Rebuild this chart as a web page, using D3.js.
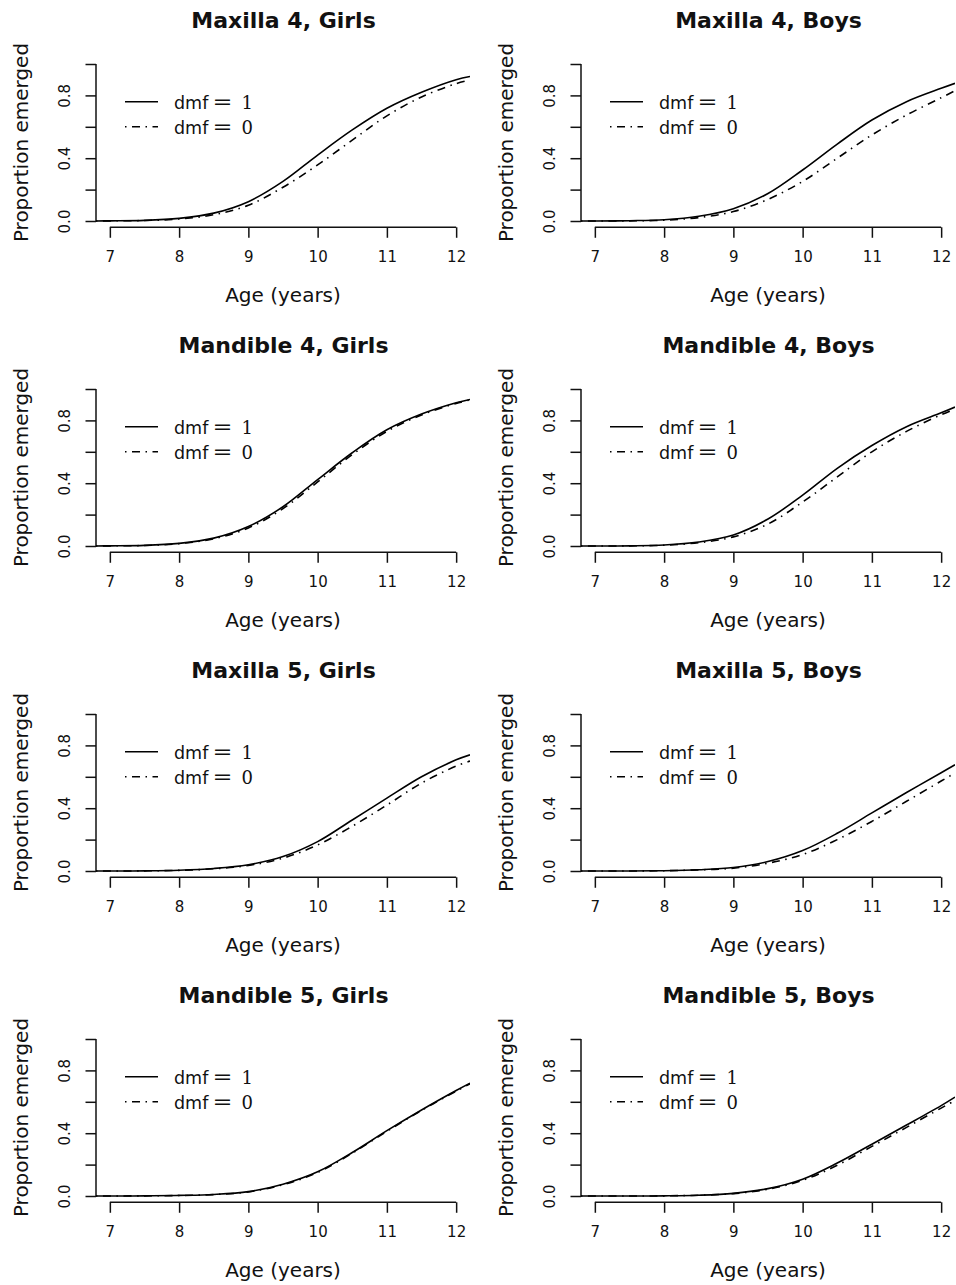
<!DOCTYPE html>
<html>
<head>
<meta charset="utf-8">
<script src="https://cdn.jsdelivr.net/npm/d3@7"></script>
<style>
  html, body { margin: 0; padding: 0; background: #fff; }
  svg { display: block; }
  text { fill: #111; }
</style>
</head>
<body>
<svg id="fig" width="956" height="1285"></svg>
<script>
// Ages at which the fitted emergence curves are tabulated
const ages = [6.8, 7, 7.5, 8, 8.5, 9, 9.5, 10, 10.5, 11, 11.5, 12, 12.2];

// Estimated proportion of teeth emerged, by tooth, sex and caries status (dmf)
const maxilla4GirlsDmf1  = [0, 0.001, 0.004, 0.017, 0.050, 0.123, 0.252, 0.420, 0.580, 0.718, 0.820, 0.900, 0.920];
const maxilla4GirlsDmf0  = [0, 0.001, 0.003, 0.013, 0.040, 0.100, 0.215, 0.357, 0.515, 0.670, 0.790, 0.875, 0.898];
const maxilla4BoysDmf1   = [0, 0.000, 0.002, 0.008, 0.030, 0.078, 0.175, 0.325, 0.490, 0.643, 0.760, 0.845, 0.877];
const maxilla4BoysDmf0   = [0, 0.000, 0.001, 0.005, 0.022, 0.060, 0.138, 0.252, 0.400, 0.548, 0.675, 0.785, 0.830];
const mandible4GirlsDmf1 = [0, 0.001, 0.004, 0.017, 0.050, 0.124, 0.250, 0.423, 0.594, 0.740, 0.840, 0.912, 0.933];
const mandible4GirlsDmf0 = [0, 0.001, 0.003, 0.015, 0.046, 0.115, 0.238, 0.408, 0.582, 0.730, 0.835, 0.908, 0.930];
const mandible4BoysDmf1  = [0, 0.000, 0.001, 0.006, 0.025, 0.070, 0.172, 0.324, 0.495, 0.640, 0.760, 0.848, 0.885];
const mandible4BoysDmf0  = [0, 0.000, 0.001, 0.005, 0.021, 0.058, 0.140, 0.280, 0.440, 0.600, 0.730, 0.836, 0.872];
const maxilla5GirlsDmf1  = [0, 0.000, 0.001, 0.005, 0.016, 0.040, 0.092, 0.187, 0.325, 0.464, 0.600, 0.708, 0.740];
const maxilla5GirlsDmf0  = [0, 0.000, 0.001, 0.004, 0.014, 0.035, 0.082, 0.166, 0.285, 0.420, 0.560, 0.668, 0.700];
const maxilla5BoysDmf1   = [0, 0.000, 0.000, 0.002, 0.008, 0.022, 0.060, 0.130, 0.240, 0.370, 0.500, 0.626, 0.677];
const maxilla5BoysDmf0   = [0, 0.000, 0.000, 0.002, 0.007, 0.018, 0.050, 0.105, 0.200, 0.316, 0.444, 0.573, 0.624];
const mandible5GirlsDmf1 = [0, 0.000, 0.001, 0.004, 0.010, 0.028, 0.075, 0.154, 0.277, 0.416, 0.548, 0.672, 0.719];
const mandible5GirlsDmf0 = [0, 0.000, 0.001, 0.003, 0.009, 0.026, 0.072, 0.150, 0.273, 0.412, 0.545, 0.668, 0.714];
const mandible5BoysDmf1  = [0, 0.000, 0.000, 0.001, 0.005, 0.017, 0.047, 0.107, 0.210, 0.330, 0.452, 0.576, 0.630];
const mandible5BoysDmf0  = [0, 0.000, 0.000, 0.001, 0.005, 0.015, 0.043, 0.100, 0.196, 0.316, 0.437, 0.560, 0.608];

const panelTitles = [
  "Maxilla 4, Girls", "Maxilla 4, Boys",
  "Mandible 4, Girls", "Mandible 4, Boys",
  "Maxilla 5, Girls", "Maxilla 5, Boys",
  "Mandible 5, Girls", "Mandible 5, Boys"
];
const panelDmf1 = [maxilla4GirlsDmf1, maxilla4BoysDmf1, mandible4GirlsDmf1, mandible4BoysDmf1,
                   maxilla5GirlsDmf1, maxilla5BoysDmf1, mandible5GirlsDmf1, mandible5BoysDmf1];
const panelDmf0 = [maxilla4GirlsDmf0, maxilla4BoysDmf0, mandible4GirlsDmf0, mandible4BoysDmf0,
                   maxilla5GirlsDmf0, maxilla5BoysDmf0, mandible5GirlsDmf0, mandible5BoysDmf0];

const xTicks = [7, 8, 9, 10, 11, 12];
const yTicks = [0, 0.2, 0.4, 0.6, 0.8, 1.0];
const yTickLabels = ["0.0", "", "0.4", "", "0.8", ""];
const legendLabels = ["1", "0"];
const xLabel = "Age (years)";
const yLabel = "Proportion emerged";

// Layout of the 4 x 2 grid
const colLeft = [96, 581];   // x of the y-axis line in each column
const rowZero = 221;         // y of value 0 in the first row
const rowStep = 325;
const plotW = 374;
const unitH = 157;           // pixels per unit proportion

const svg = d3.select("#fig");
const sans = "'DejaVu Sans', sans-serif";
const serif = "'DejaVu Serif', serif";
const dotdash = "1.5,5.5,8,5.5";

panelTitles.forEach((title, i) => {
  const col = i % 2, row = Math.floor(i / 2);
  const x0 = colLeft[col];
  const y0 = rowZero + row * rowStep;

  const x = d3.scaleLinear().domain([6.8, 12.2]).range([x0, x0 + plotW]);
  const y = d3.scaleLinear().domain([0, 1]).range([y0, y0 - unitH]);

  const g = svg.append("g");

  // clip region = plotting region (axis ranges padded by 4%)
  const clipId = "clip" + i;
  svg.append("clipPath").attr("id", clipId)
    .append("rect")
    .attr("x", x(6.8)).attr("y", y(1.04))
    .attr("width", x(12.2) - x(6.8)).attr("height", y(-0.04) - y(1.04));

  // title
  g.append("text")
    .attr("x", x0 + plotW / 2 + 0.5).attr("y", y0 - 192.7)
    .attr("text-anchor", "middle")
    .style("font-family", sans).style("font-weight", "bold").style("font-size", "22px")
    .text(title);

  // x axis (line spans first to last tick, placed at bottom of plot region)
  const xAxisY = y(-0.04);
  const xAxis = d3.axisBottom(x).tickValues(xTicks).tickSize(10.5).tickSizeOuter(0)
    .tickFormat(d3.format("d"));
  const gx = g.append("g").attr("transform", `translate(0,${xAxisY})`).call(xAxis)
    .attr("font-size", null).attr("font-family", null);
  gx.select(".domain").remove();
  gx.append("line")
    .attr("x1", x(xTicks[0])).attr("x2", x(xTicks[xTicks.length - 1]))
    .attr("stroke", "#111").attr("stroke-width", 1.5);
  gx.selectAll(".tick line").attr("stroke", "#111").attr("stroke-width", 1.5);
  gx.selectAll(".tick text")
    .attr("dy", null)
    .attr("y", 34.4)
    .attr("font-size", "15px")
    .style("font-family", sans).style("font-size", "15px").style("fill", "#111");

  // y axis at left of plot region, line spans 0 to 1
  const yAxis = d3.axisLeft(y).tickValues(yTicks).tickSize(10.5).tickSizeOuter(0)
    .tickFormat((d, k) => yTickLabels[k]);
  const gy = g.append("g").attr("transform", `translate(${x0},0)`).call(yAxis)
    .attr("font-size", null).attr("font-family", null);
  gy.select(".domain").remove();
  gy.append("line")
    .attr("y1", y(0)).attr("y2", y(1))
    .attr("stroke", "#111").attr("stroke-width", 1.5);
  gy.selectAll(".tick line").attr("stroke", "#111").attr("stroke-width", 1.5);
  gy.selectAll(".tick text")
    .attr("dy", null)
    .attr("transform", "translate(-26,0) rotate(-90)")
    .attr("x", 0).attr("y", 0)
    .attr("text-anchor", "middle")
    .attr("font-size", "15px")
    .style("font-family", sans).style("font-size", "15px").style("fill", "#111");

  // axis titles
  g.append("text")
    .attr("x", x0 + plotW / 2).attr("y", y0 + 80.7)
    .attr("text-anchor", "middle")
    .style("font-family", sans).style("font-size", "20px")
    .text(xLabel);
  g.append("text")
    .attr("transform", `translate(${x0 - 68},${(y(0) + y(1)) / 2}) rotate(-90)`)
    .attr("text-anchor", "middle")
    .style("font-family", sans).style("font-size", "20px")
    .text(yLabel);

  // fitted curves
  const line = d3.line()
    .x((d, k) => x(ages[k]))
    .y(d => y(d))
    .curve(d3.curveCatmullRom.alpha(0.5));

  const curves = g.append("g").attr("clip-path", `url(#${clipId})`);
  curves.append("path")
    .attr("d", line(panelDmf1[i]))
    .attr("fill", "none").attr("stroke", "#000").attr("stroke-width", 1.6);
  curves.append("path")
    .attr("d", line(panelDmf0[i]))
    .attr("fill", "none").attr("stroke", "#000").attr("stroke-width", 1.6)
    .attr("stroke-dasharray", dotdash);

  // legend
  legendLabels.forEach((lab, k) => {
    const ly = y0 - 119.3 + k * 25;
    const ln = g.append("line")
      .attr("x1", x0 + 29).attr("x2", x0 + 62)
      .attr("y1", ly).attr("y2", ly)
      .attr("stroke", "#000").attr("stroke-width", 1.6);
    if (k === 1) ln.attr("stroke-dasharray", dotdash);

    const tb = ly + 7;
    const t = g.append("text")
      .attr("y", tb)
      .style("font-size", "18px");
    t.append("tspan")
      .attr("x", x0 + 78)
      .style("font-family", sans).style("font-size", "17.5px")
      .text("dmf");
    t.append("tspan")
      .attr("x", x0 + 116.5)
      .attr("textLength", 20).attr("lengthAdjust", "spacingAndGlyphs")
      .style("font-family", serif).style("font-size", "20px").style("font-weight", "300")
      .text("=");
    t.append("tspan")
      .attr("x", x0 + 145.5)
      .style("font-family", serif).style("font-size", "18px")
      .text(lab);
  });
});
</script>
</body>
</html>
